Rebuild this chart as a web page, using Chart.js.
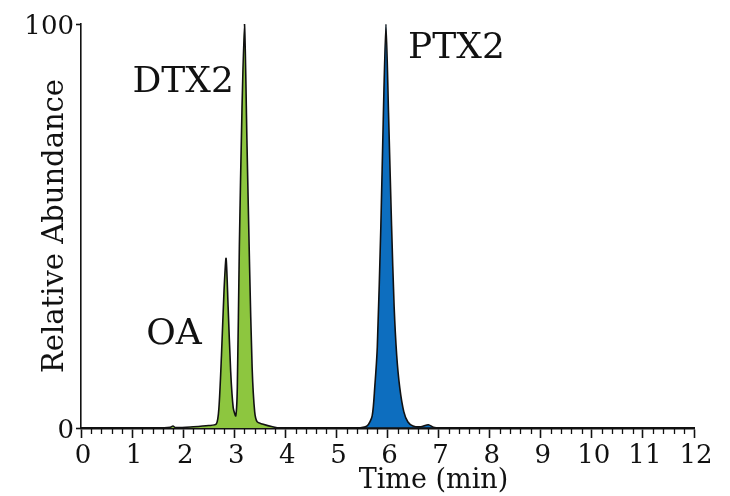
<!DOCTYPE html>
<html>
<head>
<meta charset="utf-8">
<script src="https://cdn.jsdelivr.net/npm/chart.js@4/dist/chart.umd.min.js"></script>
<style>
  html, body { margin: 0; padding: 0; background: #ffffff; }
  #chromatogram { display: block; }
</style>
</head>
<body>
<canvas id="chromatogram" width="730" height="496"></canvas>
<script>
// OA + DTX2 trace (time in min, relative abundance in %)
const greenTime = [0, 1.5, 1.75, 1.8, 1.85, 2.2, 2.5, 2.65, 2.7, 2.75, 2.8, 2.84, 2.88, 2.93, 2.98, 3.03,
  3.06, 3.1, 3.15, 3.2, 3.25, 3.3, 3.35, 3.4, 3.45, 3.55, 3.75, 3.9, 12];
const greenAbundance = [0, 0, 0.2, 0.5, 0.1, 0.3, 0.6, 1, 5, 18, 34, 42, 30, 14, 5, 3,
  10, 45, 78, 100, 70, 40, 15, 4, 1.5, 1, 0.3, 0, 0];

// PTX2 trace
const blueTime = [0, 5.4, 5.6, 5.7, 5.75, 5.8, 5.87, 5.92, 5.97, 6.02, 6.08, 6.13, 6.18, 6.24, 6.32, 6.4,
  6.5, 6.65, 6.8, 6.9, 7.0, 12];
const blueAbundance = [0, 0, 0.5, 3, 10, 20, 50, 78, 100, 78, 50, 30, 18, 10, 4, 1.5,
  0.5, 0.3, 0.8, 0.2, 0, 0];

const yTickValues = [0, 100];
const peakNames = ["DTX2", "OA", "PTX2"];
const peakLabelTime = [2.0, 1.82, 7.35];
const peakLabelAbundance = [85.5, 23, 94];

const serif = "'DejaVu Serif', 'Liberation Serif', serif";
const ink = "#111111";

function toPoints(xs, ys) {
  return xs.map((x, i) => ({ x, y: ys[i] }));
}

const minorTicks = {
  id: "minorTicks",
  afterDatasetsDraw(chart) {
    const xScale = chart.scales.x;
    const ctx = chart.ctx;
    const y0 = chart.chartArea.bottom;
    ctx.save();
    ctx.strokeStyle = ink;
    ctx.lineWidth = 1.3;
    for (let i = 0; i <= 60; i++) {
      if (i % 5 === 0) continue;
      const px = Math.round(xScale.getPixelForValue(i / 5)) + 0.5;
      ctx.beginPath();
      ctx.moveTo(px, y0);
      ctx.lineTo(px, y0 + 6);
      ctx.stroke();
    }
    ctx.restore();
  }
};

// peak names and the x axis title
const chartText = {
  id: "chartText",
  afterDatasetsDraw(chart) {
    const { ctx, scales, chartArea } = chart;
    ctx.save();
    ctx.fillStyle = ink;
    ctx.textAlign = "center";
    ctx.textBaseline = "middle";
    ctx.font = `36px ${serif}`;
    peakNames.forEach((name, i) => {
      ctx.fillText(name, scales.x.getPixelForValue(peakLabelTime[i]), scales.y.getPixelForValue(peakLabelAbundance[i]));
    });
    ctx.font = `27px ${serif}`;
    ctx.fillText("Time (min)", scales.x.getPixelForValue(6.9), chartArea.bottom + 53);
    ctx.restore();
  }
};

new Chart(document.getElementById("chromatogram"), {
  type: "line",
  data: {
    datasets: [
      {
        label: "OA / DTX2",
        data: toPoints(greenTime, greenAbundance),
        borderColor: ink,
        borderWidth: 1.6,
        backgroundColor: "#8dc63f",
        fill: "origin",
        pointRadius: 0,
        tension: 0.25
      },
      {
        label: "PTX2",
        data: toPoints(blueTime, blueAbundance),
        borderColor: ink,
        borderWidth: 1.6,
        backgroundColor: "#0d6ebf",
        fill: "origin",
        pointRadius: 0,
        tension: 0.25
      }
    ]
  },
  options: {
    responsive: false,
    animation: false,
    layout: {
      padding: { top: 24, right: 36, left: 0, bottom: 2 }
    },
    plugins: {
      legend: { display: false },
      tooltip: { enabled: false }
    },
    scales: {
      x: {
        type: "linear",
        min: 0,
        max: 12,
        border: { color: ink, width: 2.5 },
        grid: {
          drawOnChartArea: false,
          tickLength: 10,
          tickColor: ink,
          tickWidth: 1.6
        },
        ticks: {
          stepSize: 1,
          padding: 3,
          labelOffset: 2,
          color: ink,
          font: { family: serif, size: 26 },
          maxRotation: 0
        },
        afterFit(scale) {
          scale.height = 66;
        }
      },
      y: {
        min: 0,
        max: 100,
        border: { color: ink, width: 1.6 },
        grid: {
          drawOnChartArea: false,
          tickLength: 5,
          tickColor: ink,
          tickWidth: 1.6
        },
        afterBuildTicks(scale) {
          scale.ticks = yTickValues.map((value) => ({ value }));
        },
        ticks: {
          padding: 2,
          labelOffset: 3,
          color: ink,
          font: { family: serif, size: 26 }
        },
        title: {
          display: true,
          text: "Relative Abundance",
          color: ink,
          font: { family: serif, size: 29 },
          padding: { top: 38, bottom: 0 }
        },
        afterFit(scale) {
          scale.width = 81;
        }
      }
    }
  },
  plugins: [minorTicks, chartText]
});
</script>
</body>
</html>
